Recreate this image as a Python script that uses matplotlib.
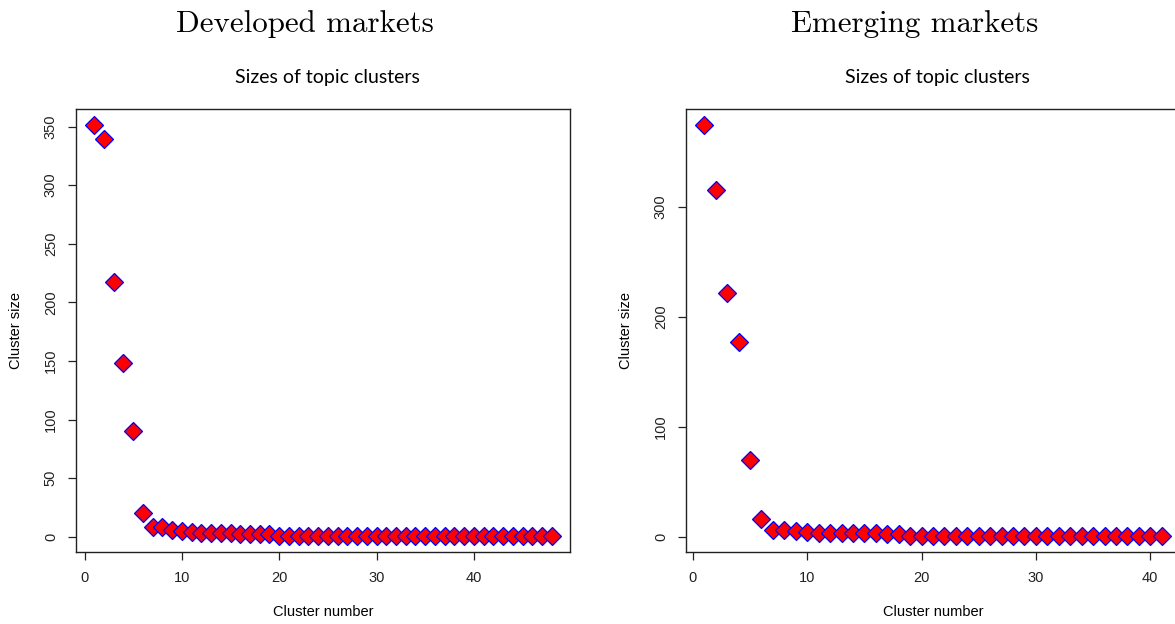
#!/usr/bin/env python3
"""Sizes of topic clusters: developed vs emerging markets."""

import matplotlib

matplotlib.use("Agg")
import matplotlib.pyplot as plt

# cluster sizes
developed_sizes = [351, 339, 217, 148, 90, 20, 8, 8, 6, 5, 4, 3, 3, 3, 3, 2, 2, 2, 2,
                   1, 1, 1, 1, 1, 1, 1, 1, 1, 1, 1, 1, 1, 1, 1, 1, 1, 1, 1, 1, 1,
                   1, 1, 1, 1, 1, 1, 1, 1]
emerging_sizes = [374, 315, 222, 177, 70, 16, 6, 6, 5, 4, 3, 3, 3, 3, 3, 3, 2, 2,
                  1, 1, 1, 1, 1, 1, 1, 1, 1, 1, 1, 1, 1, 1, 1, 1, 1, 1, 1, 1, 1,
                  1, 1]
panel_titles = ["Developed markets", "Emerging markets"]
developed_yticks = [0, 50, 100, 150, 200, 250, 300, 350]
emerging_yticks = [0, 100, 200, 300]
xticks = [0, 10, 20, 30, 40]

W, H = 1175, 624
fig = plt.figure(figsize=(W / 100, H / 100), dpi=100)
fig.patch.set_facecolor("white")

def panel(left_px, sizes, yticks, title_x_px, title):
    ax = fig.add_axes([left_px / W, (H - 552) / H, 494 / W, 443 / H])
    xs = list(range(1, len(sizes) + 1))
    ax.plot(xs, sizes, linestyle="none", marker="D", markersize=9.2,
            markerfacecolor="red", markeredgecolor="blue", markeredgewidth=0.9)
    n = len(sizes)
    pad_x = (n - 1) * 0.04
    ax.set_xlim(1 - pad_x, n + pad_x)
    lo, hi = min(sizes), max(sizes)
    pad_y = (hi - lo) * 0.04
    ax.set_ylim(lo - pad_y, hi + pad_y)
    ax.set_xticks(xticks)
    ax.set_yticks(yticks)
    for s in ax.spines.values():
        s.set_linewidth(1.0)
        s.set_color("#222222")
    ax.tick_params(axis="both", direction="out", length=6, width=0.9,
                   labelsize=10.5, colors="#222222")
    ax.tick_params(axis="x", pad=8)
    ax.tick_params(axis="y", pad=7, labelrotation=90)
    for lab in ax.get_yticklabels():
        lab.set_va("center")
    for lab in ax.get_xticklabels() + ax.get_yticklabels():
        lab.set_fontfamily("Liberation Sans")
    ax.set_xlabel("Cluster number", fontsize=10.5, family="Liberation Sans")
    ax.xaxis.set_label_coords(0.5, -0.12)
    ax.set_ylabel("Cluster size", fontsize=10.5, family="Liberation Sans")
    ax.yaxis.set_label_coords(-0.107, 0.5)
    ax.set_title("Sizes of topic clusters", fontsize=14, family="Lato",
                 x=0.509, pad=18.5)
    fig.text(title_x_px / W, (H - 32) / H, title, family="cmr10",
             fontsize=22.3, ha="center", va="baseline")
    return ax

panel(76, developed_sizes, developed_yticks, 305, panel_titles[0])
panel(686, emerging_sizes, emerging_yticks, 915, panel_titles[1])

fig.savefig("out.png", dpi=100)
plt.close(fig)
